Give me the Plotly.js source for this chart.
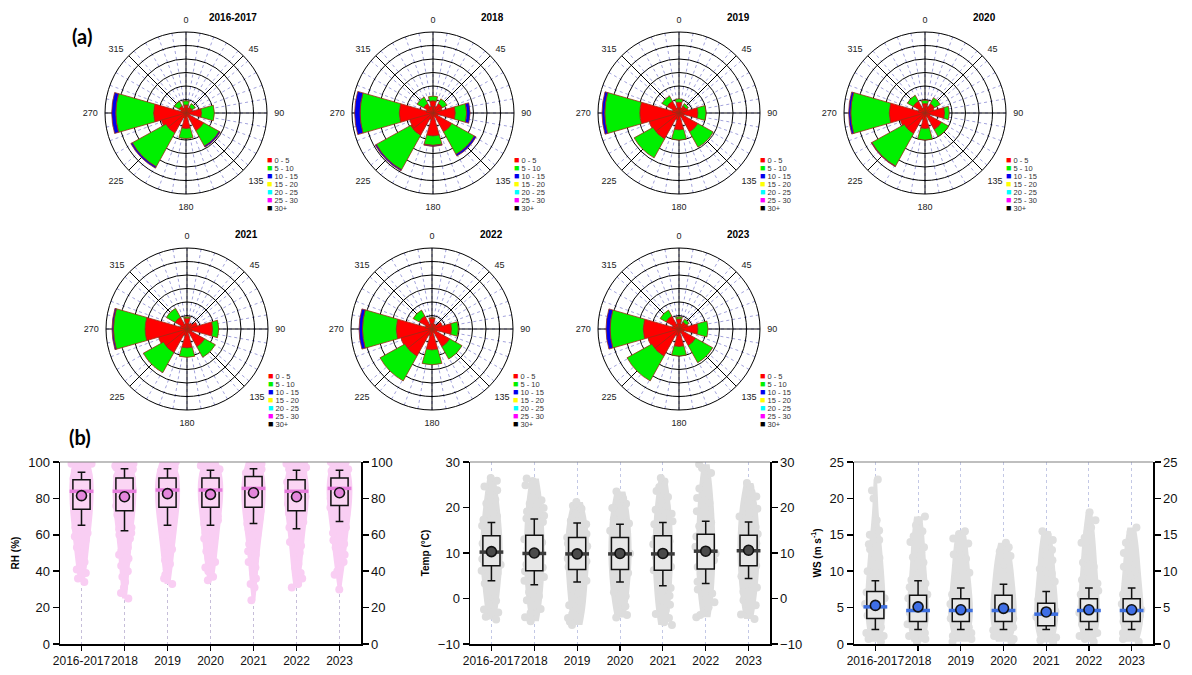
<!DOCTYPE html>
<html><head><meta charset="utf-8">
<script src="https://cdn.plot.ly/plotly-3.0.1.min.js"></script>
<style>html,body{margin:0;padding:0;background:#fff}#chart{width:1192px;height:675px}</style>
</head><body><div id="chart"></div>
<script>
const W = 1192, H = 675;

// ---------------- wind rose data ----------------
const directions = [0,22.5,45,67.5,90,112.5,135,157.5,180,202.5,225,247.5,270,292.5,315,337.5];
const angleTicks = [0,45,90,135,180,225,270,315];
const speedClasses = ['0 - 5','5 - 10','10 - 15','15 - 20','20 - 25','25 - 30','30+'];
const years = ['2016-2017','2018','2019','2020','2021','2022','2023'];

// frequency (%) per direction, order N, NNE, NE, ... NNW
const f2016_0_5   = [1.2,0.8,1.0,1.0,2.3,0.6,3.0,0.6,2.3,0.8,3.4,3.8,4.8,0.8,1.2,0.8];
const f2016_5_10  = [0.6,0,0.6,0,1.9,0,2.6,0,1.5,0,5.7,0,5.6,0,0.8,0];
const f2016_10_15 = [0,0,0,0,0,0,0.2,0,0,0,0.25,0,0.6,0,0,0];

const f2018_0_5   = [1.8,1.0,1.6,1.4,3.3,0.8,3.2,0.6,3.4,1.0,3.8,3.6,5.0,1.0,1.6,1.0];
const f2018_5_10  = [0.7,0,0.8,0,1.7,0,3.8,0,1.4,0,5.8,0,5.8,0,1.1,0];
const f2018_10_15 = [0,0,0,0,0.5,0,0.3,0,0.15,0,0.2,0,0.8,0,0,0];

const f2019_0_5   = [1.6,0.8,1.2,1.4,2.8,0.8,3.2,0.6,2.5,1.0,4.4,4.6,5.8,1.0,2.0,0.8];
const f2019_5_10  = [0.5,0,0.4,0,1.2,0,2.6,0,1.5,0,3.2,0,5.2,0,0.9,0];
const f2019_10_15 = [0,0,0,0,0,0,0,0,0,0,0,0,0.4,0,0,0];

const f2020_0_5   = [1.4,1.0,1.6,1.4,2.9,0.8,2.8,0.6,2.3,1.0,3.5,3.8,5.3,1.0,2.0,0.8];
const f2020_5_10  = [0.5,0,1.0,0,0.7,0,1.2,0,1.7,0,5.5,0,5.7,0,1.0,0];
const f2020_10_15 = [0,0,0,0,0,0,0,0,0,0,0.1,0,0.3,0,0,0];

const f2021_0_5   = [1.6,0.8,1.0,1.6,3.8,0.8,3.0,0.6,2.8,1.0,4.0,4.4,6.2,1.0,2.0,0.8];
const f2021_5_10  = [0.2,0,0,0,0.9,0,1.8,0,1.4,0,3.4,0,4.7,0,1.5,0];
const f2021_10_15 = [0,0,0,0,0,0,0,0,0,0,0,0,0.2,0,0,0];

const f2022_0_5   = [1.6,0.8,0.8,1.6,2.9,0.8,3.0,0.6,3.1,1.0,4.6,4.8,5.3,1.0,2.2,0.8];
const f2022_5_10  = [0.1,0,0,0,1.0,0,2.1,0,2.2,0,4.2,0,5.0,0,1.0,0];
const f2022_10_15 = [0,0,0,0,0,0,0,0,0,0,0,0,0.5,0,0,0];

const f2023_0_5   = [1.5,0.8,1.2,1.4,2.8,0.8,2.8,0.6,2.6,1.0,4.6,4.8,5.3,1.0,2.2,0.8];
const f2023_5_10  = [0.3,0,0.5,0,1.5,0,2.9,0,1.4,0,4.2,0,4.9,0,1.0,0];
const f2023_10_15 = [0,0,0,0,0,0,0,0,0,0,0,0,0.6,0,0,0];

const roseData = [
  [f2016_0_5,f2016_5_10,f2016_10_15],
  [f2018_0_5,f2018_5_10,f2018_10_15],
  [f2019_0_5,f2019_5_10,f2019_10_15],
  [f2020_0_5,f2020_5_10,f2020_10_15],
  [f2021_0_5,f2021_5_10,f2021_10_15],
  [f2022_0_5,f2022_5_10,f2022_10_15],
  [f2023_0_5,f2023_5_10,f2023_10_15]
];

// ---------------- box plot data ----------------
const rhQ1 = [74.1,73.2,75.2,75.2,75.2,73.2,76.1];
const rhMedian = [83.9,83.9,84.6,84.6,85.5,83.9,85.5];
const rhQ3 = [90.3,91.2,91.2,91.2,92.1,90.3,91.2];
const rhLow = [65.3,62.2,65.3,65.3,66.2,63.3,67.3];
const rhHigh = [94.3,96.3,96.3,95.4,96.3,95.4,95.4];
const rhMean = [81.5,80.9,82.6,82.2,83.1,80.9,83.1];

const tempQ1 = [7.2,6.1,6.4,6.4,6.2,6.5,7.2];
const tempMedian = [10.2,9.9,9.8,9.8,9.8,10.4,10.5];
const tempQ3 = [13.8,13.9,13.4,13.4,13.8,14.1,13.9];
const tempLow = [3.9,3.0,3.6,3.6,2.8,3.3,4.4];
const tempHigh = [16.7,17.5,16.6,16.3,16.7,17.0,16.8];
const tempMean = [10.3,10.0,9.8,9.9,9.9,10.4,10.6];

const wsQ1 = [3.5,3.1,3.1,3.1,2.5,3.1,3.1];
const wsMedian = [5.1,4.6,4.6,4.6,4.1,4.6,4.6];
const wsQ3 = [7.2,6.7,6.2,6.7,5.6,6.2,6.2];
const wsLow = [2.0,2.0,2.0,2.0,2.0,2.0,2.0];
const wsHigh = [8.7,8.7,7.7,8.2,7.2,7.7,7.7];
const wsMean = [5.3,5.1,4.7,4.9,4.4,4.7,4.7];

// individual observations (read from the clouds)
const rh2016 = [100,100,99,99,98,97,96,96,95,94,93,92,91,90,89,88,87,86,85,84,83,82,81,80,79,78,77,76,75,74,73,72,71,70,69,68,66,65,64,63,61,60,59,57,56,54,53,51,49,47,45,43,41,39,36,34];
const rh2018 = [100,100,99,98,98,97,96,95,94,93,92,91,90,89,88,87,86,85,84,83,82,81,80,79,78,77,76,75,74,73,72,71,69,68,67,66,64,63,61,60,58,57,55,53,51,49,47,45,43,40,37,34,31,28,25];
const rh2019 = [100,100,99,98,97,97,96,95,94,93,92,91,90,89,88,87,86,85,84,83,82,81,80,79,78,77,76,75,74,73,72,71,70,68,67,66,64,63,62,60,59,57,56,54,52,50,48,46,44,41,38,36,33];
const rh2020 = [100,100,99,98,97,96,96,95,94,93,92,91,90,89,88,87,86,85,84,83,82,81,80,79,78,77,76,75,74,73,72,70,69,68,66,65,64,62,61,59,58,56,55,53,51,49,47,45,42,40,37,35];
const rh2021 = [100,100,99,99,98,97,96,95,94,93,92,91,90,89,88,87,86,85,84,83,82,81,80,79,78,77,76,75,74,73,72,71,70,69,67,66,65,63,62,60,59,57,55,53,51,49,47,45,42,39,36,33,31,24];
const rh2022 = [100,100,99,98,97,96,95,94,93,92,91,90,89,88,87,86,85,84,83,82,81,80,79,78,77,76,75,74,73,72,71,69,68,67,65,64,62,61,59,58,56,54,52,50,48,46,44,42,39,36,33,31];
const rh2023 = [100,100,99,98,97,96,95,95,94,93,92,91,90,89,88,87,86,85,84,83,82,81,80,79,78,77,76,75,74,73,72,71,70,68,67,66,64,63,61,60,58,57,55,53,51,49,47,45,43,40,38,30];

const t2016 = [26.5,25.9,24.6,23.8,22.4,21.7,20.9,19.6,18.8,18.1,17.3,16.6,16.0,15.2,14.7,13.9,13.3,12.8,12.1,11.6,10.9,10.4,9.8,9.1,8.7,8.0,7.4,6.9,6.1,5.6,4.8,4.1,3.3,2.4,1.5,0.6,-0.5,-1.3,-2.4,-3.1,-4.0,-4.6];
const t2018 = [26.4,25.8,24.9,23.7,22.9,21.6,20.8,19.9,19.1,18.2,17.6,16.8,15.9,15.3,14.6,13.8,13.0,12.3,11.7,11.0,10.2,9.6,8.9,8.1,7.5,6.8,6.0,5.3,4.7,3.9,3.1,2.2,1.4,0.5,-0.4,-1.5,-2.3,-3.2,-4.1,-5.0];
const t2019 = [21.2,20.4,19.7,18.6,17.9,17.1,16.3,15.6,14.9,14.2,13.4,12.8,12.1,11.5,10.8,10.1,9.5,8.8,8.2,7.5,6.9,6.2,5.4,4.7,3.9,3.0,2.2,1.3,0.4,-0.6,-1.5,-2.6,-3.4,-4.3,-5.1,-5.8];
const t2020 = [23.5,22.7,21.9,20.8,19.9,19.1,18.2,17.4,16.5,15.7,14.9,14.2,13.5,12.7,12.0,11.4,10.6,9.9,9.2,8.6,7.8,7.1,6.4,5.6,4.9,4.0,3.2,2.3,1.4,0.5,-0.6,-1.7,-2.8,-3.6,-4.2];
const t2021 = [26.5,25.7,24.5,23.6,22.3,21.4,20.3,19.5,18.6,17.8,17.0,16.3,15.5,14.8,14.0,13.3,12.6,11.9,11.2,10.5,9.8,9.1,8.4,7.7,7.0,6.2,5.5,4.8,4.0,3.2,2.3,1.5,0.6,-0.5,-1.4,-2.5,-3.4,-4.3,-5.2,-5.8];
const t2022 = [29.5,28.7,27.6,26.4,25.1,24.2,23.0,22.1,21.0,20.1,19.2,18.3,17.5,16.7,15.9,15.2,14.4,13.6,12.9,12.1,11.4,10.7,9.9,9.2,8.4,7.7,6.9,6.1,5.4,4.6,3.7,2.9,2.0,1.1,0.3,-0.8,-1.9,-2.9,-3.6,-4.1];
const t2023 = [25.4,24.5,23.3,22.4,21.5,20.6,19.7,18.8,18.0,17.2,16.5,15.7,15.0,14.2,13.5,12.8,12.1,11.4,10.7,10.0,9.3,8.6,7.9,7.2,6.5,5.7,4.9,4.1,3.2,2.4,1.5,0.6,-0.4,-1.5,-2.6,-3.5,-4.5];

const w2016 = [22.6,21.1,20.0,17.0,15.6,15.0,14.3,13.7,13.0,12.4,11.8,11.2,10.6,10.0,9.5,9.0,8.5,8.0,7.6,7.1,6.7,6.3,5.9,5.5,5.1,4.7,4.3,3.9,3.5,3.1,2.7,2.3,1.9,1.5,1.1,0.7,0.3];
const w2018 = [17.5,17.0,16.3,15.5,14.8,14.0,13.3,12.6,11.9,11.2,10.6,10.0,9.4,8.8,8.3,7.8,7.3,6.8,6.3,5.9,5.5,5.1,4.7,4.3,3.9,3.5,3.1,2.7,2.3,1.9,1.5,1.1,0.7,0.3];
const w2019 = [15.5,15.1,14.5,13.8,13.0,12.3,11.7,11.0,10.4,9.8,9.2,8.7,8.2,7.7,7.2,6.8,6.3,5.9,5.5,5.1,4.7,4.3,3.9,3.5,3.1,2.7,2.3,1.9,1.5,1.1,0.7,0.3];
const w2020 = [13.9,13.3,12.7,12.1,11.5,10.9,10.3,9.7,9.2,8.7,8.2,7.7,7.2,6.8,6.3,5.9,5.5,5.1,4.7,4.3,3.9,3.5,3.1,2.7,2.3,1.9,1.5,1.1,0.7,0.3];
const w2021 = [15.5,15.0,14.3,13.6,12.9,12.2,11.5,10.9,10.3,9.7,9.1,8.6,8.1,7.6,7.1,6.6,6.1,5.7,5.3,4.9,4.5,4.1,3.7,3.3,2.9,2.5,2.1,1.7,1.3,0.9,0.5,0.2];
const w2022 = [18.1,17.0,16.0,15.3,14.6,13.9,13.2,12.5,11.8,11.2,10.6,10.0,9.4,8.8,8.3,7.8,7.3,6.8,6.3,5.9,5.5,5.1,4.7,4.3,3.9,3.5,3.1,2.7,2.3,1.9,1.5,1.1,0.7,0.3];
const w2023 = [16.0,15.4,14.7,13.9,13.2,12.5,11.8,11.2,10.6,10.0,9.4,8.8,8.3,7.8,7.3,6.8,6.3,5.9,5.5,5.1,4.7,4.3,3.9,3.5,3.1,2.7,2.3,1.9,1.5,1.1,0.7,0.3];

// ---------------- styling / layout helpers ----------------
const classColors = ['#ff0000','#00f000','#0000ee','#ffff00','#00ffff','#ff00ff','#000000'];
const FONT = 'Arial, "Liberation Sans", sans-serif';
const roseCenters = [[186,113],[433,113],[679,113],[925,113],[187,329],[432,329],[679,329]];
const R = 81;
const px = p => p / W;
const py = p => 1 - p / H;

const data = [];
const layout = {
  width: W, height: H,
  margin: {l:0, r:0, t:0, b:0},
  paper_bgcolor: '#fff', plot_bgcolor: 'rgba(0,0,0,0)',
  showlegend: false,
  font: {family: FONT, color: '#111'},
  boxmode: 'overlay', violinmode: 'overlay',
  annotations: [], shapes: []
};

// background polars (dashed spokes)
roseCenters.forEach((c, i) => {
  const id = i === 0 ? 'polar' : 'polar' + (i + 1);
  layout[id] = {
    domain: {x: [px(c[0]-R), px(c[0]+R)], y: [py(c[1]+R), py(c[1]-R)]},
    bgcolor: 'rgba(0,0,0,0)',
    angularaxis: {rotation: 90, direction: 'clockwise', tickmode: 'linear', tick0: 0, dtick: 10,
      showticklabels: false, ticks: '', showline: false, gridcolor: '#9898d8', griddash: 'dot', gridwidth: 0.9},
    radialaxis: {visible: false, range: [0, 12]}
  };
  data.push({type: 'scatterpolar', subplot: id, r: [0], theta: [0], mode: 'markers',
    marker: {opacity: 0, size: 1}, hoverinfo: 'skip'});
});

// main polars with bars
roseCenters.forEach((c, i) => {
  const id = 'polar' + (i + 8);
  layout[id] = {
    domain: {x: [px(c[0]-R), px(c[0]+R)], y: [py(c[1]+R), py(c[1]-R)]},
    bgcolor: 'rgba(0,0,0,0)',
    barmode: 'stack',
    angularaxis: {rotation: 90, direction: 'clockwise', tickmode: 'array', tickvals: angleTicks,
      ticktext: angleTicks.map(String), showgrid: true, gridcolor: '#000', gridwidth: 1,
      showline: true, linecolor: '#000', linewidth: 1, ticks: 'outside', ticklen: 5,
      tickcolor: 'rgba(0,0,0,0)', tickfont: {size: 9, family: FONT, color: '#222'}, layer: 'above traces'},
    radialaxis: {range: [0, 12], tickmode: 'array', tickvals: [2,4,6,8,10], showticklabels: false,
      ticks: '', showline: false, showgrid: true, gridcolor: '#000', gridwidth: 1, layer: 'above traces'}
  };
  roseData[i].forEach((vals, k) => {
    data.push({type: 'barpolar', subplot: id, r: vals, theta: directions, width: 32,
      name: speedClasses[k],
      marker: {color: classColors[k], line: {color: '#9b2d16', width: 0.8}},
      hoverinfo: 'skip'});
  });
  // year title
  layout.annotations.push({xref: 'paper', yref: 'paper', x: px(c[0]+73), y: py(c[1]-95),
    xanchor: 'right', yanchor: 'middle', showarrow: false,
    text: '<b>' + years[i] + '</b>', font: {size: 10, family: FONT, color: '#000'}});
  // legend
  speedClasses.forEach((lab, k) => {
    layout.annotations.push({xref: 'paper', yref: 'paper', x: px(c[0]+79), y: py(c[1]+47+k*8),
      xanchor: 'left', yanchor: 'middle', showarrow: false,
      text: '<span style="color:' + classColors[k] + ';font-size:9px">■</span> ' + lab,
      font: {size: 7.5, family: FONT, color: '#333'}});
  });
});

// panel labels
layout.annotations.push({xref:'paper', yref:'paper', x: px(70), y: py(22), showarrow:false,
  text:'<b>(a)</b>', font:{size:20, family:'Lato, "Open Sans", sans-serif', color:'#000'}});
layout.annotations.push({xref:'paper', yref:'paper', x: px(67), y: py(437), showarrow:false,
  text:'<b>(b)</b>', font:{size:20, family:'Lato, "Open Sans", sans-serif', color:'#000'}});

// ---------------- cartesian panels ----------------
const panels = [
  {xa:'x', ya:'y', ya2:'y2', xl:60, xr:361, range:[0,100], dtick:20, title:'<b>RH (%)</b>',
   pts:[rh2016,rh2018,rh2019,rh2020,rh2021,rh2022,rh2023], vw:0.6,
   q1:rhQ1, med:rhMedian, q3:rhQ3, lo:rhLow, hi:rhHigh, mean:rhMean,
   ptColor:'rgb(249,206,243)', boxFill:'rgba(255,230,250,0.3)', medColor:'#e67ddc', meanColor:'#e486dc', grid:'#b8aed0'},
  {xa:'x2', ya:'y3', ya2:'y4', xl:470, xr:770, range:[-10,30], dtick:10, title:'<b>Temp (°C)</b>',
   pts:[t2016,t2018,t2019,t2020,t2021,t2022,t2023], vw:0.56,
   q1:tempQ1, med:tempMedian, q3:tempQ3, lo:tempLow, hi:tempHigh, mean:tempMean,
   ptColor:'rgb(221,221,221)', boxFill:'rgba(238,238,238,0.6)', medColor:'#3c3c3c', meanColor:'#4a4a4a', grid:'#b4bade'},
  {xa:'x3', ya:'y5', ya2:'y6', xl:854, xr:1153, range:[0,25], dtick:5, title:'<b>WS (m s<sup>-1</sup>)</b>',
   pts:[w2016,w2018,w2019,w2020,w2021,w2022,w2023], vw:0.62,
   q1:wsQ1, med:wsMedian, q3:wsQ3, lo:wsLow, hi:wsHigh, mean:wsMean,
   ptColor:'rgb(223,223,223)', boxFill:'rgba(238,238,238,0.6)', medColor:'#3d6fe0', meanColor:'#3f6fe6', grid:'#b4bade'}
];

const yDom = [py(644), py(462)];
panels.forEach((p, n) => {
  const xKey = 'xaxis' + (n === 0 ? '' : n + 1);
  const yKey = 'yaxis' + (p.ya === 'y' ? '' : p.ya.slice(1));
  const y2Key = 'yaxis' + p.ya2.slice(1);
  layout[xKey] = {domain: [px(p.xl), px(p.xr)], anchor: p.ya, type: 'category',
    categoryorder: 'array', categoryarray: years, range: [-0.5, 6.5], tickangle: 0,
    showline: true, linecolor: '#000', linewidth: 1.5, ticks: 'outside', ticklen: 5, tickwidth: 1.2,
    tickcolor: '#000', showgrid: true, gridcolor: p.grid, griddash: 'dot', gridwidth: 0.8,
    tickfont: {size: 12, family: FONT, color: '#111'}, zeroline: false, fixedrange: true};
  const yCommon = {range: p.range, dtick: p.dtick, tick0: p.range[0], showline: true, linecolor: '#000', linewidth: 1.5,
    ticks: 'outside', ticklen: 6, tickwidth: 1.5, tickcolor: '#000', showgrid: false, zeroline: false,
    tickfont: {size: 13, family: FONT, color: '#111'}, fixedrange: true};
  layout[yKey] = Object.assign({}, yCommon, {domain: yDom, anchor: p.xa,
    title: {text: p.title, font: {size: 10, family: FONT, color: '#000'}, standoff: 6}});
  layout[y2Key] = Object.assign({}, yCommon, {overlaying: p.ya, side: 'right', anchor: p.xa});

  // top frame line
  layout.shapes.push({type: 'line', xref: p.xa + ' domain', yref: p.ya + ' domain',
    x0: 0, x1: 1, y0: 1, y1: 1, line: {color: '#808080', width: 1.2}});

  // observation clouds: density outline + jittered points
  const xs = [], ys = [];
  p.pts.forEach((arr, i) => arr.forEach(v => { xs.push(years[i]); ys.push(v); }));
  data.push({type: 'violin', xaxis: p.xa, yaxis: p.ya, x: xs, y: ys, points: false,
    width: p.vw, spanmode: 'hard', scalemode: 'width', fillcolor: p.ptColor,
    line: {width: 0, color: p.ptColor}, box: {visible: false}, meanline: {visible: false}, hoverinfo: 'skip'});
  data.push({type: 'box', xaxis: p.xa, yaxis: p.ya, x: xs, y: ys, boxpoints: 'all', jitter: 1, pointpos: 0,
    width: 0.5, fillcolor: 'rgba(0,0,0,0)', line: {width: 0, color: 'rgba(0,0,0,0)'},
    marker: {color: p.ptColor, size: 8}, hoverinfo: 'skip'});
  // boxes
  data.push({type: 'box', xaxis: p.xa, yaxis: p.ya, x: years, q1: p.q1, median: p.med, q3: p.q3,
    lowerfence: p.lo, upperfence: p.hi, boxpoints: false, width: 0.4, whiskerwidth: 0.45,
    fillcolor: p.boxFill, line: {color: '#111', width: 1.5}, hoverinfo: 'skip'});
  // median bars
  data.push({type: 'scatter', xaxis: p.xa, yaxis: p.ya2, x: years, y: p.med, mode: 'markers',
    marker: {symbol: 'line-ew', size: 17, line: {color: p.medColor, width: 3.5}}, hoverinfo: 'skip'});
  // mean markers
  data.push({type: 'scatter', xaxis: p.xa, yaxis: p.ya2, x: years, y: p.mean, mode: 'markers',
    marker: {symbol: 'circle', size: 10, color: p.meanColor, line: {color: '#111', width: 1.6}}, hoverinfo: 'skip'});
});

Plotly.newPlot('chart', data, layout, {displayModeBar: false, staticPlot: true});
</script>
</body></html>
